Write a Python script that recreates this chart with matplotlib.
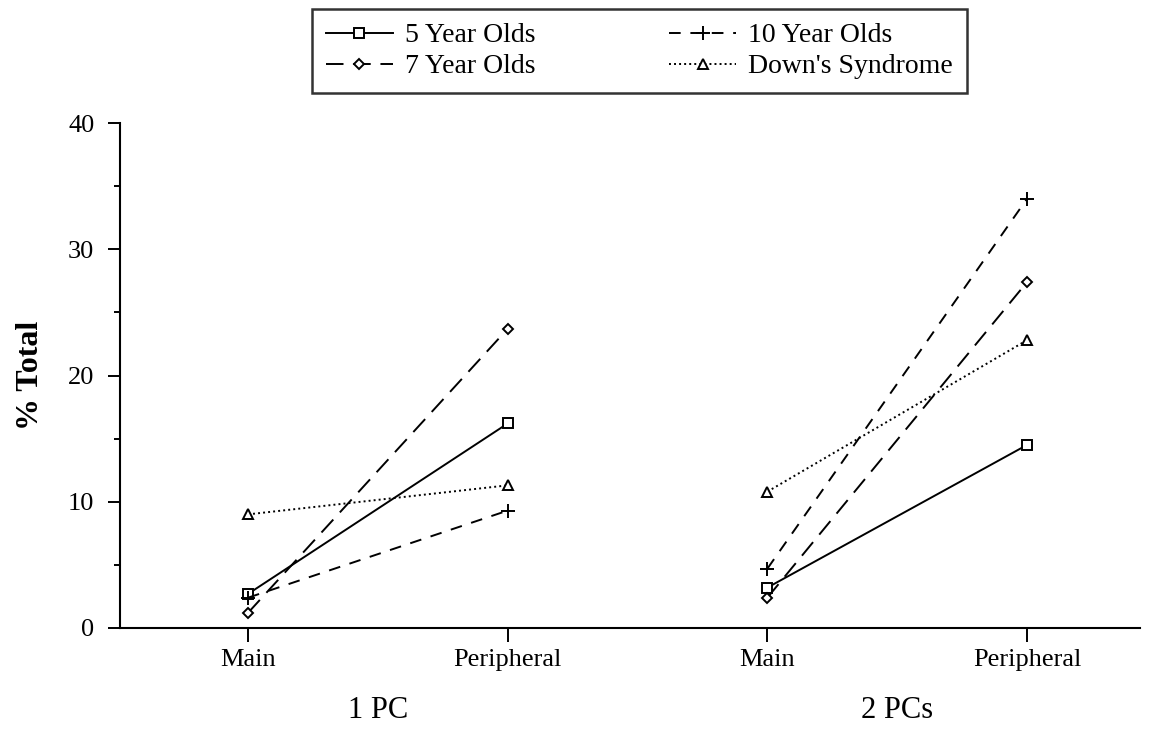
import matplotlib
matplotlib.use("Agg")
import matplotlib.pyplot as plt
from matplotlib.ticker import MultipleLocator

plt.rcParams['font.family'] = ['Liberation Serif', 'DejaVu Serif']

categories = ["Main", "Peripheral", "Main", "Peripheral"]
groups = ["1 PC", "2 PCs"]
series_names = ["5 Year Olds", "7 Year Olds", "10 Year Olds", "Down's Syndrome"]
five_yr = [2.7, 16.2, 3.2, 14.5]
seven_yr = [1.2, 23.7, 2.4, 27.4]
ten_yr = [2.4, 9.3, 4.7, 34.0]
downs = [9.0, 11.3, 10.8, 22.8]

W, H = 1161, 731
fig = plt.figure(figsize=(W / 100, H / 100), dpi=100)
ax = fig.add_axes([120 / W, 1 - 628 / H, (1140 - 120) / W, (628 - 123) / H])

styles = [
    dict(ls='-', marker='s', ms=7.5),
    dict(ls=(0, (9, 5)), marker='D', ms=5),
    dict(ls=(0, (6, 5)), marker='+', ms=10),
    dict(ls=(0, (1, 1.6)), marker='^', ms=7.5),
]
data = [five_yr, seven_yr, ten_yr, downs]
handles = []
for vals, name, st in zip(data, series_names, styles):
    h = None
    for g in range(2):
        xs = [2 * g, 2 * g + 1]
        ys = vals[2 * g:2 * g + 2]
        line, = ax.plot(xs, ys, color='black', linestyle=st['ls'], lw=1.4,
                        marker=st['marker'], markersize=st['ms'],
                        markerfacecolor='white', markeredgecolor='black',
                        markeredgewidth=1.4,
                        label=name if g == 0 else None)
        if g == 0:
            h = line
    handles.append(h)

ax.set_xlim(-0.493, 3.435)
ax.set_ylim(0, 40)
ax.yaxis.set_major_locator(MultipleLocator(10))
ax.yaxis.set_minor_locator(MultipleLocator(5))
ax.set_xticks(range(4))
ax.set_xticklabels(categories, fontsize=19)
ax.tick_params(axis='y', which='major', length=8.5, width=1.4, labelsize=19,
               pad=10, direction='out')
ax.tick_params(axis='y', which='minor', length=4.5, width=1.4, direction='out')
ax.tick_params(axis='x', length=10, width=1.4, pad=5, direction='out')
for s in ['top', 'right']:
    ax.spines[s].set_visible(False)
for s in ['left', 'bottom']:
    ax.spines[s].set_linewidth(1.5)

fig.text(30 / W, 1 - 375 / H, "% Total", rotation=90, ha='center', va='center',
         fontsize=23, fontweight='bold')

for g, label in enumerate(groups):
    ax.text(2 * g + 0.5, -0.163, label, transform=ax.get_xaxis_transform(),
            ha='center', va='center', fontsize=22)

leg = fig.legend(handles=handles, labels=series_names, ncol=2, loc='upper left',
                 bbox_to_anchor=(312 / W, 1 - 97 / H, 655 / W, 88 / H),
                 mode='expand', fontsize=20, frameon=True, fancybox=False,
                 edgecolor='black', handlelength=2.4, handletextpad=0.45,
                 borderpad=0.5, labelspacing=0.2, borderaxespad=0)
leg.get_frame().set_linewidth(1.8)

fig.savefig("out.png", dpi=100)
